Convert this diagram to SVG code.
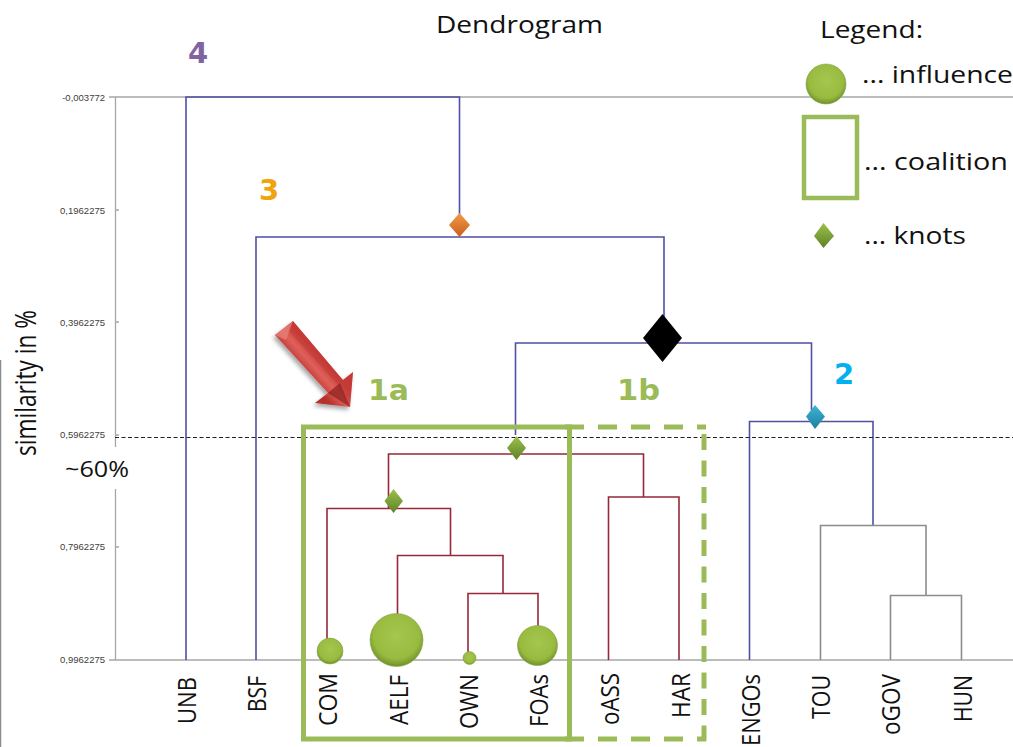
<svg xmlns="http://www.w3.org/2000/svg" width="1013" height="747" viewBox="0 0 1013 747">
<style>
text{font-family:"Open Sans","DejaVu Sans",sans-serif}
.ax{stroke:#a6a6a6;stroke-width:1.3;fill:none}
.blue{stroke:#4f4fa3;stroke-width:1.6;fill:none}
.red{stroke:#97283a;stroke-width:1.6;fill:none}
.grey{stroke:#8c8c8c;stroke-width:1.6;fill:none}
.tick{font-family:"Liberation Sans",sans-serif;font-size:9.500px;fill:#404040;text-anchor:end}
.num{font-family:"DejaVu Sans",sans-serif;font-size:29px;font-weight:700}
.lab{font-size:24px;fill:#111;font-family:"Open Sans",sans-serif}
.leaf{font-size:25px;fill:#111;font-family:"Open Sans",sans-serif}
.coal{fill:none;stroke:#9bbb59;stroke-width:5}
.ball{fill:url(#b);stroke:#86a548;stroke-width:.6}
</style>
<defs>
<radialGradient id="b" cx=".5" cy=".42" r=".6"><stop offset="0" stop-color="#a6c64f"/><stop offset=".72" stop-color="#98bb3f"/><stop offset="1" stop-color="#6a8a2a"/></radialGradient>
<linearGradient id="kg" x1="0" y1="0" x2="0" y2="1"><stop offset="0" stop-color="#9bc14a"/><stop offset="1" stop-color="#5f8229"/></linearGradient>
<linearGradient id="kc" x1="0" y1="0" x2="0" y2="1"><stop offset="0" stop-color="#3fb4d8"/><stop offset="1" stop-color="#1d7f9c"/></linearGradient>
<linearGradient id="ko" x1="0" y1="0" x2="0" y2="1"><stop offset="0" stop-color="#f09a4a"/><stop offset="1" stop-color="#c9601a"/></linearGradient>
<linearGradient id="ar" gradientUnits="userSpaceOnUse" x1="294" y1="364" x2="312" y2="348"><stop offset="0" stop-color="#b5302c"/><stop offset=".55" stop-color="#e0605a"/><stop offset="1" stop-color="#c93f3a"/></linearGradient>
<filter id="s" x="-30%" y="-30%" width="160%" height="160%"><feDropShadow dx="-2" dy="3" stdDeviation="2" flood-color="#000" flood-opacity=".35"/></filter>
</defs>
<rect width="1013" height="747" fill="#fff"/>

<g id="axis">
<path class="ax" d="M115.500 97V447M115.500 489V660M109 97H1013M115 210H119M115 322H119M115 435H119M115 547H119M109 660H1013"/>
<path d="M0.500 360V747" stroke="#8c8c8c" stroke-width="1.500" fill="none"/>
<text class="tick" x="105" y="101">-0,003772</text>
<text class="tick" x="105" y="214">0,1962275</text>
<text class="tick" x="105" y="326">0,3962275</text>
<text class="tick" x="105" y="438">0,5962275</text>
<text class="tick" x="105" y="550">0,7962275</text>
<text class="tick" x="105" y="663">0,9962275</text>
<text transform="translate(36,456) rotate(-90)" font-size="30" fill="#111" textLength="146" lengthAdjust="spacingAndGlyphs">similarity in %</text>
<text x="65" y="477" font-size="21" fill="#111" textLength="64" lengthAdjust="spacingAndGlyphs">~60%</text>
</g>

<g id="connectors">
<path class="blue" d="M186 660V97H459.500V225M256 660V237H664V330M515.500 435V343H811.500V410M749.500 660V421.500H873V526"/>
<path class="red" d="M516 448V454M388.500 508V454H643.500V497M327 660V508.500H450.500V555M397.500 615V555.500H503V593M468 652V593.500H538V628M608.500 660V497H679V660"/>
<path class="grey" d="M820.500 660V525.500H926V595M890.500 660V595.500H961.500V660"/>
<path d="M115 437.500H1013" stroke="#222" stroke-width="1.200" stroke-dasharray="4 2.500" fill="none"/>
</g>

<g id="coalition-1a"><rect class="coal" x="303.500" y="427" width="266" height="312"/></g>
<g id="coalition-1b"><path class="coal" d="M565 427H706M565 739H706" stroke-dasharray="19 14"/><path class="coal" d="M704 427V741" stroke-dasharray="16 10.500" stroke-dashoffset="-7"/></g>

<g id="red-arrow">
<path d="M275 335L293 321L343 380L353 372L350 407L315 403L328 393Z" fill="url(#ar)" filter="url(#s)"/>
<path d="M293 321L343 380L353 372L350 407L338 385L286 328Z" fill="#b8322d" opacity=".35"/>
<path d="M275 335L293 321L286 340Z" fill="#e8837d" opacity=".7"/>
<path d="M328 393L350 407L340 383Z" fill="#8f2320" opacity=".75"/>
</g>

<g id="knot-orange"><path d="M459.500 213L470 225L459.500 237L449 225Z" fill="url(#ko)"/></g>
<g id="knot-black"><path d="M662.500 314L682 338L662.500 362L643 338Z" fill="#000"/></g>
<g id="knot-cyan"><path d="M815 405L825 416.500L815 429L806 416.500Z" fill="url(#kc)"/></g>
<g id="knot-1"><path d="M516.500 436L526 448L516.500 460L507 448Z" fill="url(#kg)"/></g>
<g id="knot-1a"><path d="M393.500 489L403 501L393.500 513L384.500 501Z" fill="url(#kg)"/></g>

<g id="node-UNB"><text class="leaf" transform="translate(196,724) rotate(-90)" textLength="47" lengthAdjust="spacingAndGlyphs">UNB</text></g>
<g id="node-BSF"><text class="leaf" transform="translate(266,712) rotate(-90)" textLength="36" lengthAdjust="spacingAndGlyphs">BSF</text></g>
<g id="node-COM"><circle class="ball" cx="330" cy="651" r="13"/><text class="leaf" transform="translate(337,726) rotate(-90)" textLength="53" lengthAdjust="spacingAndGlyphs">COM</text></g>
<g id="node-AELF"><circle class="ball" cx="396.500" cy="640" r="26.500"/><text class="leaf" transform="translate(408,725) rotate(-90)" textLength="50" lengthAdjust="spacingAndGlyphs">AELF</text></g>
<g id="node-OWN"><circle class="ball" cx="469.500" cy="658" r="6.500"/><text class="leaf" transform="translate(478,729) rotate(-90)" textLength="55" lengthAdjust="spacingAndGlyphs">OWN</text></g>
<g id="node-FOAs"><circle class="ball" cx="537.500" cy="645.500" r="20"/><text class="leaf" transform="translate(548,727) rotate(-90)" textLength="53" lengthAdjust="spacingAndGlyphs">FOAs</text></g>
<g id="node-oASS"><text class="leaf" transform="translate(619,725) rotate(-90)" textLength="52" lengthAdjust="spacingAndGlyphs">oASS</text></g>
<g id="node-HAR"><text class="leaf" transform="translate(690,718) rotate(-90)" textLength="45" lengthAdjust="spacingAndGlyphs">HAR</text></g>
<g id="node-ENGOs"><text class="leaf" transform="translate(760,746) rotate(-90)" textLength="72" lengthAdjust="spacingAndGlyphs">ENGOs</text></g>
<g id="node-TOU"><text class="leaf" transform="translate(830,719) rotate(-90)" textLength="44" lengthAdjust="spacingAndGlyphs">TOU</text></g>
<g id="node-oGOV"><text class="leaf" transform="translate(900,735) rotate(-90)" textLength="61" lengthAdjust="spacingAndGlyphs">oGOV</text></g>
<g id="node-HUN"><text class="leaf" transform="translate(972,722) rotate(-90)" textLength="47" lengthAdjust="spacingAndGlyphs">HUN</text></g>

<g id="labels">
<text x="436" y="33" class="lab" textLength="167" lengthAdjust="spacingAndGlyphs">Dendrogram</text>
<text class="num" x="188" y="63" fill="#8064a2">4</text>
<text class="num" x="259" y="200" fill="#f0a30a">3</text>
<text class="num" x="834" y="384" fill="#00b0f0">2</text>
<text class="num" x="368" y="400" fill="#9bbb59" textLength="41" lengthAdjust="spacingAndGlyphs">1a</text>
<text class="num" x="617" y="400" fill="#9bbb59" textLength="43" lengthAdjust="spacingAndGlyphs">1b</text>
</g>

<g id="legend">
<text x="820" y="38" class="lab" textLength="103" lengthAdjust="spacingAndGlyphs">Legend:</text>
<circle class="ball" cx="826" cy="84" r="20"/>
<text x="862" y="83" class="lab" textLength="151" lengthAdjust="spacingAndGlyphs">... influence</text>
<rect x="804" y="117" width="53" height="81" fill="none" stroke="#9bbb59" stroke-width="4.500"/>
<text x="864" y="170" class="lab" textLength="144" lengthAdjust="spacingAndGlyphs">... coalition</text>
<path d="M823.500 223L834 236L823.500 248L814 236Z" fill="url(#kg)"/>
<text x="864" y="244" class="lab" textLength="102" lengthAdjust="spacingAndGlyphs">... knots</text>
</g>
</svg>
